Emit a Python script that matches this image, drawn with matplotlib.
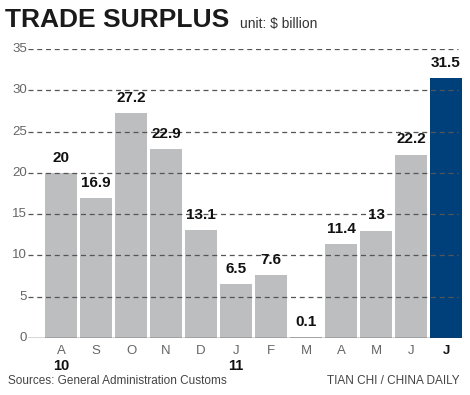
import matplotlib.pyplot as plt

# trade surplus, $ billion, Aug 2010 - Jul 2011
months = ['A', 'S', 'O', 'N', 'D', 'J', 'F', 'M', 'A', 'M', 'J', 'J']
years = {0: '10', 5: '11'}
surplus = [20, 16.9, 27.2, 22.9, 13.1, 6.5, 7.6, 0.1, 11.4, 13, 22.2, 31.5]
labels = ['20', '16.9', '27.2', '22.9', '13.1', '6.5', '7.6', '0.1',
          '11.4', '13', '22.2', '31.5']
yticks = [0, 5, 10, 15, 20, 25, 30, 35]

plt.rcParams['font.family'] = ['Liberation Sans', 'DejaVu Sans']

fig = plt.figure(figsize=(4.7, 3.95), dpi=100)
ax = fig.add_axes([28 / 470, 57 / 395, 434 / 470, 289 / 395])

gray = '#bdbec0'
blue = '#00407a'
colors = [gray] * (len(surplus) - 1) + [blue]
x = list(range(len(surplus)))
ax.bar(x, surplus, width=0.91, color=colors, zorder=1)

for yt in yticks[1:]:
    ax.axhline(yt, xmax=0.99, color='#555555', lw=0.9, ls=(0, (4, 3)),
               zorder=2)
ax.axhline(0, color='#333333', lw=1.0, zorder=3)

for i, (v, lab) in enumerate(zip(surplus, labels)):
    ax.text(i, v + 1.0, lab, ha='center', va='bottom', fontsize=11,
            fontweight='bold', color='#111111')

ax.set_xlim(-0.943, 11.457)
ax.set_ylim(0, 35)
for s in ax.spines.values():
    s.set_visible(False)
ax.set_xticks([])
ax.set_yticks([])

for yt in yticks:
    ax.text(-0.98, yt, str(yt), ha='right', va='center', fontsize=9.5,
            color='#666666')

for i, m in enumerate(months):
    last = i == len(months) - 1
    ax.text(i, -0.9, m, ha='center', va='top', fontsize=9.5,
            color='#111111' if last else '#666666',
            fontweight='bold' if last else 'normal')
for i, yr in years.items():
    ax.text(i, -2.5, yr, ha='center', va='top', fontsize=10.5,
            fontweight='bold', color='#111111')

fig.text(5 / 470, 1 - 20 / 395, 'TRADE SURPLUS', fontsize=19,
         fontweight='bold', color='#1a1a1a', va='center', ha='left')
fig.text(240 / 470, 1 - 24 / 395, 'unit: $ billion', fontsize=10,
         color='#333333', va='center', ha='left')
fig.text(8 / 470, 1 - 381 / 395, 'Sources: General Administration Customs',
         fontsize=8.5, color='#444444', va='center', ha='left')
fig.text(460 / 470, 1 - 381 / 395, 'TIAN CHI / CHINA DAILY',
         fontsize=8.5, color='#444444', va='center', ha='right')

fig.savefig('out.png', dpi=100)
